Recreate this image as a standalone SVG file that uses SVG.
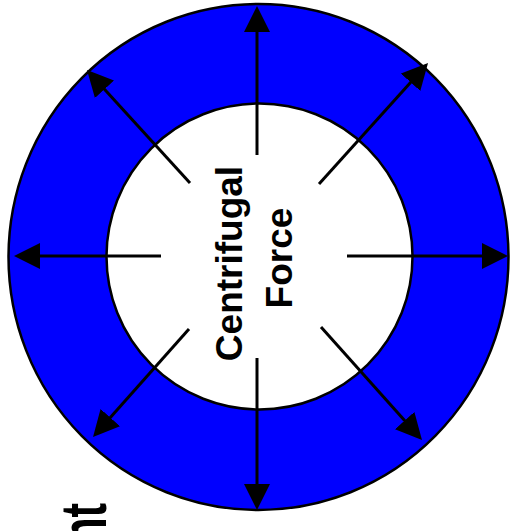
<svg xmlns="http://www.w3.org/2000/svg" width="510" height="531" viewBox="0 0 510 531">
<style>
.ring{fill:#0000ff;stroke:#000;stroke-width:2.5}
.hole{fill:#fff;stroke:#000;stroke-width:2.5}
.arr{stroke:#000;stroke-width:3;fill:none;marker-end:url(#ah)}
.lbl{font-family:"Liberation Sans",Arial,sans-serif;font-weight:bold;fill:#000}
</style>
<defs>
<marker id="ah" viewBox="0 0 26 26" refX="14" refY="13" markerWidth="26" markerHeight="26" markerUnits="userSpaceOnUse" orient="auto">
<path d="M0,0 L26,13 L0,26 z" fill="#000"/>
</marker>
</defs>
<rect width="510" height="531" fill="#fff"/>
<g id="outer"><ellipse class="ring" cx="258.5" cy="257" rx="250" ry="253"/></g>
<g id="inner"><circle class="hole" cx="259.5" cy="256.5" r="153"/></g>
<g id="connectors">
<line class="arr" x1="257" y1="155" x2="257" y2="18"/>
<line class="arr" x1="257" y1="358" x2="257" y2="498"/>
<line class="arr" x1="161" y1="256" x2="26" y2="256"/>
<line class="arr" x1="347" y1="256" x2="496" y2="256"/>
<line class="arr" x1="190" y1="183" x2="95.1" y2="78.9"/>
<line class="arr" x1="319" y1="184" x2="420" y2="71.9"/>
<line class="arr" x1="189" y1="329" x2="101" y2="428"/>
<line class="arr" x1="321" y1="327" x2="414" y2="431"/>
</g>
<g id="label">
<text class="lbl" font-size="37" text-anchor="middle" transform="translate(242,263.5) rotate(-90)">Centrifugal</text>
<text class="lbl" font-size="37" text-anchor="middle" transform="translate(292,258) rotate(-90)">Force</text>
</g>
<g id="side-label">
<text class="lbl" font-size="64" text-anchor="end" transform="translate(106,503) rotate(-90) scale(0.68,1)">nt</text>
</g>
</svg>
